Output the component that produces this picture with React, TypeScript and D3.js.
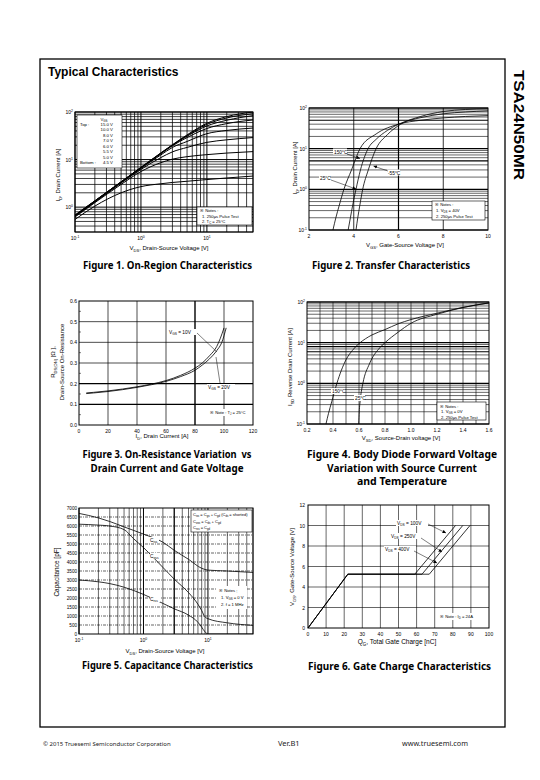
import React from 'react';
import * as d3 from 'd3';

const FONT = "'Liberation Sans', Arial, sans-serif";
const CAP_FONT = "'Noto Sans', 'Open Sans', sans-serif";

// ---------- Figure 1: On-Region ----------
const f1Vds = [0.1, 0.2, 0.5, 1, 2, 3, 5, 10, 20, 50];
const f1Id15 = [0.68, 1.36, 3.4, 6.9, 13.8, 20.5, 33, 58, 80, 100];
const f1Id10 = [0.68, 1.35, 3.4, 6.8, 13.6, 20.2, 32, 55, 75, 92];
const f1Id8 = [0.67, 1.34, 3.38, 6.8, 13.5, 20, 31, 51, 67, 84];
const f1Id7 = [0.66, 1.33, 3.35, 6.7, 13.2, 19.5, 29, 45, 57, 68];
const f1Id6 = [0.65, 1.3, 3.3, 6.5, 12.5, 18, 24, 35, 41, 46];
const f1Id55 = [0.64, 1.28, 3.2, 6.2, 11, 14.5, 18, 23, 26, 29];
const f1Id5 = [0.62, 1.24, 3.0, 5.6, 8.6, 10.2, 11.5, 12.7, 13.7, 14.7];
const f1Id45 = [0.55, 1.05, 2.0, 2.7, 3.1, 3.3, 3.5, 3.8, 4.1, 4.5];
const f1Legend = ['15.0 V', '10.0 V', '8.0 V', '7.0 V', '6.0 V', '5.5 V', '5.0 V', '4.5 V'];

// ---------- Figure 2: Transfer ----------
const f2Vgs150 = [3.07, 3.2, 3.35, 3.56, 3.9, 4.28, 5.0, 6, 7, 8, 9, 10];
const f2Id150 = [0.1, 0.2, 0.4, 1, 3, 10, 23, 40, 50, 57, 62, 65];
const f2Vgs25 = [3.75, 3.85, 3.95, 4.1, 4.3, 4.64, 5, 5.5, 6, 7, 8, 9, 10];
const f2Id25 = [0.1, 0.2, 0.4, 1, 3, 10, 17, 28, 40, 58, 72, 80, 85];
const f2VgsM55 = [4.1, 4.18, 4.27, 4.4, 4.65, 5.0, 5.5, 6.1, 7, 8, 9, 10];
const f2IdM55 = [0.1, 0.2, 0.4, 1, 3, 10, 22, 40, 62, 82, 92, 96];
const f2XTicks = [2, 4, 6, 8, 10];

// ---------- Figure 3: On-Resistance ----------
const f3Id10 = [5, 10, 20, 30, 40, 50, 60, 70, 80, 85, 90, 95, 97.5, 100];
const f3Rds10 = [0.155, 0.158, 0.165, 0.174, 0.185, 0.198, 0.215, 0.24, 0.275, 0.3, 0.335, 0.38, 0.42, 0.47];
const f3Id20 = [5, 10, 20, 30, 40, 50, 60, 70, 80, 85, 90, 95, 98.5, 101.5];
const f3Rds20 = [0.152, 0.155, 0.162, 0.171, 0.182, 0.195, 0.211, 0.234, 0.265, 0.29, 0.32, 0.36, 0.4, 0.47];
const f3XTicks = [0, 20, 40, 60, 80, 100, 120];
const f3YTicks = [0, 0.1, 0.2, 0.3, 0.4, 0.5, 0.6];

// ---------- Figure 4: Body diode ----------
const f4Vsd150 = [0.346, 0.365, 0.39, 0.43, 0.5, 0.55, 0.6, 0.65, 0.7, 0.8, 0.9, 1.0, 1.2, 1.4, 1.6];
const f4Isd150 = [0.1, 0.18, 0.35, 1, 3.8, 6.5, 9.5, 12.5, 15.5, 21, 29, 37, 53, 74, 95];
const f4Vsd25 = [0.598, 0.602, 0.61, 0.63, 0.68, 0.76, 0.8, 0.9, 1.0, 1.2, 1.4, 1.6];
const f4Isd25 = [0.1, 0.2, 0.4, 1, 3, 7.5, 10, 18, 30, 50, 73, 95];
const f4XTicks = [0.2, 0.4, 0.6, 0.8, 1.0, 1.2, 1.4, 1.6];

// ---------- Figure 5: Capacitance ----------
const f5VdsCiss = [0.1, 0.2, 0.3, 0.5, 1, 2, 3, 5, 8, 10, 20, 50];
const f5Ciss = [6700, 6450, 6250, 5950, 5550, 5100, 4650, 4150, 3650, 3550, 3500, 3420];
const f5VdsCoss = [0.1, 0.2, 0.3, 0.5, 0.7, 1, 2, 3, 5, 7, 8, 9, 10, 20, 50];
const f5Coss = [6100, 6050, 6000, 5800, 5300, 4800, 3700, 3050, 2300, 1650, 1300, 950, 850, 620, 480];
const f5VdsCrss = [0.1, 0.2, 0.3, 0.5, 1, 2, 3, 5, 7, 8, 9, 10, 20, 50];
const f5Crss = [3000, 2900, 2800, 2600, 2200, 1700, 1400, 1050, 650, 380, 120, 0, 0, 0];
const f5YTicks = d3.range(0, 7001, 500);

// ---------- Figure 6: Gate charge ----------
const f6Qg100 = [0, 22, 59, 81.5];
const f6Qg250 = [0, 22, 63, 85.5];
const f6Qg400 = [0, 22, 67, 89.5];
const f6Vgs = [0, 5.25, 5.25, 10];
const f6XTicks = d3.range(0, 101, 10);
const f6YTicks = [0, 2, 4, 6, 8, 10, 12];

type Seg = string | { sub: string } | { sup: string };

function RText(props: {
  x: number; y: number; size: number; segs: Seg[]; anchor?: string; transform?: string; weight?: any; fill?: string;
}) {
  const { x, y, size, segs, anchor = 'start', transform, weight, fill = '#000' } = props;
  let state = 0;
  const off = (v: number) => (v === 1 ? size * 0.3 : v === -1 ? -size * 0.4 : 0);
  const kids = segs.map((s, i) => {
    let t: string;
    let st: number;
    if (typeof s === 'string') { t = s; st = 0; }
    else if ('sub' in s) { t = s.sub; st = 1; }
    else { t = (s as any).sup; st = -1; }
    const dy = off(st) - off(state);
    state = st;
    return (
      <tspan key={i} dy={dy} fontSize={st ? size * 0.68 : size}>{t}</tspan>
    );
  });
  return (
    <text x={x} y={y} fontSize={size} textAnchor={anchor as any} transform={transform} fontWeight={weight} fill={fill}>
      {kids}
    </text>
  );
}

function logVals(min: number, max: number) {
  const v: number[] = [];
  for (let e = Math.floor(Math.log10(min)); e <= Math.ceil(Math.log10(max)); e++) {
    for (let k = 1; k < 10; k++) {
      const val = k * Math.pow(10, e);
      if (val >= min * 0.999 && val <= max * 1.001) v.push(val);
    }
  }
  return v;
}
const isDecade = (v: number) => Math.abs(Math.log10(v) - Math.round(Math.log10(v))) < 1e-9;

function VLines({ vals, sx, T, B, wf, dash }: any) {
  return (
    <g>
      {vals.map((v: number, i: number) => (
        <line key={i} x1={sx(v)} x2={sx(v)} y1={T} y2={B} stroke="#000" strokeWidth={wf(v)} strokeDasharray={dash} />
      ))}
    </g>
  );
}
function HLines({ vals, sy, L, R, wf, dash }: any) {
  return (
    <g>
      {vals.map((v: number, i: number) => (
        <line key={i} x1={L} x2={R} y1={sy(v)} y2={sy(v)} stroke="#000" strokeWidth={wf(v)} strokeDasharray={dash} />
      ))}
    </g>
  );
}

function Curve({ xs, ys, sx, sy, w = 0.8, linear = false }: any) {
  const pts: [number, number][] = xs.map((x: number, i: number) => [sx(x), sy(ys[i])]);
  const gen = d3.line().curve(linear ? d3.curveLinear : d3.curveMonotoneX);
  return <path d={gen(pts) || ''} fill="none" stroke="#000" strokeWidth={w} />;
}

function Caption({ lines, cx, y0, widths }: { lines: string[]; cx: number; y0: number; widths: number[] }) {
  return (
    <g fontFamily={CAP_FONT} fontWeight={700} fontSize={10.5}>
      {lines.map((l, i) => (
        <text key={i} x={cx} y={y0 + i * 13.5} textAnchor="middle" textLength={widths[i]} lengthAdjust="spacingAndGlyphs" style={{ whiteSpace: 'pre' }}>{l}</text>
      ))}
    </g>
  );
}

function Figure1() {
  const L = 75, T = 112, R = 253, B = 232;
  const sx = d3.scaleLog().domain([0.1, 50]).range([L, R]);
  const sy = d3.scaleLog().domain([0.3, 100]).range([B, T]);
  const series = [f1Id15, f1Id10, f1Id8, f1Id7, f1Id6, f1Id55, f1Id5, f1Id45];
  return (
    <g>
      <defs><clipPath id="c1"><rect x={L} y={T} width={R - L} height={B - T} /></clipPath></defs>
      <VLines vals={logVals(0.1, 50)} sx={sx} T={T} B={B} wf={(v: number) => (isDecade(v) ? 1 : 0.75)} />
      <HLines vals={logVals(0.3, 100)} sy={sy} L={L} R={R} wf={(v: number) => (isDecade(v) ? 1 : 0.75)} />
      <g clipPath="url(#c1)">
        {series.map((s, i) => <Curve key={i} xs={f1Vds} ys={s} sx={sx} sy={sy} w={1} />)}
      </g>
      <rect x={L} y={T} width={R - L} height={B - T} fill="none" stroke="#000" strokeWidth={1} />
      {[0.1, 1, 10].map((v, i) => (
        <RText key={i} x={sx(v)} y={B + 8} size={5} anchor="middle" segs={['10', { sup: String(Math.round(Math.log10(v))) }]} />
      ))}
      {[1, 10, 100].map((v, i) => (
        <RText key={i} x={L - 2} y={sy(v) + 2} size={5} anchor="end" segs={['10', { sup: String(Math.round(Math.log10(v))) }]} />
      ))}
      {/* legend */}
      <rect x={77} y={115} width={45} height={53} fill="#fff" stroke="#000" strokeWidth={0.6} />
      <RText x={104} y={121} size={4.3} anchor="middle" segs={['V', { sub: 'GS' }]} />
      <text x={80} y={126} fontSize={4.3}>Top :</text>
      <text x={80} y={164} fontSize={4.3}>Bottom :</text>
      {f1Legend.map((t, i) => (
        <text key={i} x={113} y={126 + i * 5.43} fontSize={4.3} textAnchor="end">{t}</text>
      ))}
      {/* notes */}
      <rect x={197} y={207} width={55} height={18} fill="#fff" stroke="#000" strokeWidth={0.6} />
      <text x={200} y={212} fontSize={4.2}>※ Notes :</text>
      <text x={202} y={217.5} fontSize={4.2}>1. 250μs Pulse Test</text>
      <RText x={202} y={223} size={4.2} segs={['2. T', { sub: 'C' }, ' = 25°C']} />
      <RText x={169} y={250} size={6} anchor="middle" segs={['V', { sub: 'DS' }, ', Drain-Source Voltage [V]']} />
      <RText x={60} y={175} size={6} anchor="middle" transform="rotate(-90 60 175)" segs={['I', { sub: 'D' }, ', Drain Current [A]']} />
      <Caption lines={['Figure 1. On-Region Characteristics']} cx={167.5} y0={269} widths={[169]} />
    </g>
  );
}

function Figure2() {
  const L = 309, T = 108, R = 488, B = 230;
  const sx = d3.scaleLinear().domain([2, 10]).range([L, R]);
  const sy = d3.scaleLog().domain([0.1, 100]).range([B, T]);
  return (
    <g>
      <defs><clipPath id="c2"><rect x={L} y={T} width={R - L} height={B - T} /></clipPath></defs>
      <HLines vals={logVals(0.1, 100)} sy={sy} L={L} R={R} wf={(v: number) => (isDecade(v) || v === 5 || v === 50 ? 1.1 : 0.6)} />
      <VLines vals={[4, 6, 8]} sx={sx} T={T} B={B} wf={(v: number) => (v === 6 ? 1.2 : 0.8)} />
      <g clipPath="url(#c2)">
        <Curve xs={f2Vgs150} ys={f2Id150} sx={sx} sy={sy} />
        <Curve xs={f2Vgs25} ys={f2Id25} sx={sx} sy={sy} />
        <Curve xs={f2VgsM55} ys={f2IdM55} sx={sx} sy={sy} />
      </g>
      <rect x={L} y={T} width={R - L} height={B - T} fill="none" stroke="#000" strokeWidth={1} />
      {f2XTicks.map((v, i) => (
        <text key={i} x={sx(v)} y={B + 8} fontSize={5} textAnchor="middle">{v}</text>
      ))}
      {[0.1, 1, 10, 100].map((v, i) => (
        <RText key={i} x={L - 2} y={sy(v) + 2} size={5} anchor="end" segs={['10', { sup: String(Math.round(Math.log10(v))) }]} />
      ))}
      {/* labels */}
      <rect x={333} y={148.5} width={14} height={6} fill="#fff" />
      <text x={334} y={153.5} fontSize={4.8}>150°C</text>
      <line x1={347} y1={154} x2={360} y2={158.5} stroke="#000" strokeWidth={0.5} markerEnd="url(#arr)" />
      <rect x={387} y={169.5} width={13} height={6} fill="#fff" />
      <text x={388} y={174.5} fontSize={4.8}>-55°C</text>
      <line x1={388} y1={171} x2={373.5} y2={166} stroke="#000" strokeWidth={0.5} markerEnd="url(#arr)" />
      <rect x={319} y={175} width={11} height={6} fill="#fff" />
      <text x={320} y={180} fontSize={4.8}>25°C</text>
      <line x1={331} y1={180} x2={356} y2={189} stroke="#000" strokeWidth={0.5} markerEnd="url(#arr)" />
      {/* notes */}
      <rect x={432} y={201} width={53} height={19} fill="#fff" stroke="#000" strokeWidth={0.6} />
      <text x={435} y={206} fontSize={4.2}>※ Notes :</text>
      <RText x={436} y={212} size={4.2} segs={['1. V', { sub: 'DS' }, ' = 40V']} />
      <text x={436} y={218} fontSize={4.2}>2. 250μs Pulse Test</text>
      <RText x={405} y={247} size={6} anchor="middle" segs={['V', { sub: 'GS' }, ', Gate-Source Voltage [V]']} />
      <RText x={297} y={168} size={6} anchor="middle" transform="rotate(-90 297 168)" segs={['I', { sub: 'D' }, ', Drain Current [A]']} />
      <Caption lines={['Figure 2. Transfer Characteristics']} cx={391} y0={269} widths={[158]} />
    </g>
  );
}

function Figure3() {
  const L = 79, T = 301, R = 253, B = 425;
  const sx = d3.scaleLinear().domain([0, 120]).range([L, R]);
  const sy = d3.scaleLinear().domain([0, 0.6]).range([B, T]);
  return (
    <g>
      <VLines vals={[20, 40, 60, 80, 100]} sx={sx} T={T} B={B} wf={(v: number) => (v === 80 ? 1.4 : 0.7)} />
      <HLines vals={[0.1, 0.2, 0.3, 0.4, 0.5]} sy={sy} L={L} R={R} wf={(v: number) => (v < 0.25 ? 1.4 : 0.7)} />
      <Curve xs={f3Id10} ys={f3Rds10} sx={sx} sy={sy} />
      <Curve xs={f3Id20} ys={f3Rds20} sx={sx} sy={sy} />
      <rect x={L} y={T} width={R - L} height={B - T} fill="none" stroke="#000" strokeWidth={1} />
      {d3.range(0.05, 0.6, 0.1).map((v, i) => (
        <line key={i} x1={L} x2={L + 2} y1={sy(v)} y2={sy(v)} stroke="#000" strokeWidth={0.5} />
      ))}
      {f3XTicks.map((v, i) => (
        <text key={i} x={sx(v)} y={B + 8} fontSize={5} textAnchor="middle">{v}</text>
      ))}
      {f3YTicks.map((v, i) => (
        <text key={i} x={L - 2} y={sy(v) + 2} fontSize={5} textAnchor="end">{v.toFixed(1)}</text>
      ))}
      <rect x={168} y={329} width={28} height={6} fill="#fff" />
      <RText x={169} y={334} size={4.8} segs={['V', { sub: 'GS' }, ' = 10V']} />
      <line x1={197} y1={333} x2={217} y2={352} stroke="#000" strokeWidth={0.5} />
      <rect x={207} y={384} width={28} height={6} fill="#fff" />
      <RText x={208} y={389} size={4.8} segs={['V', { sub: 'GS' }, ' = 20V']} />
      <line x1={220} y1={383} x2={216} y2={357} stroke="#000" strokeWidth={0.5} />
      <rect x={207} y={409} width={43} height={7} fill="#fff" />
      <RText x={210} y={414} size={4.2} segs={['※ Note : T', { sub: 'J' }, ' = 25°C']} />
      <RText x={162} y={438} size={6} anchor="middle" segs={['I', { sub: 'D' }, ', Drain Current [A]']} />
      <RText x={55} y={362} size={6} anchor="middle" transform="rotate(-90 55 362)" segs={['R', { sub: 'DS(ON)' }, ' [Ω ],']} />
      <text x={64} y={362} fontSize={6} textAnchor="middle" transform="rotate(-90 64 362)">Drain-Source On-Resistance</text>
      <Caption lines={['Figure 3. On-Resistance Variation  vs', 'Drain Current and Gate Voltage']} cx={167} y0={458} widths={[169, 153]} />
    </g>
  );
}

function Figure4() {
  const L = 307, T = 302, R = 489, B = 424;
  const sx = d3.scaleLinear().domain([0.2, 1.6]).range([L, R]);
  const sy = d3.scaleLog().domain([0.1, 100]).range([B, T]);
  return (
    <g>
      <defs><clipPath id="c4"><rect x={L} y={T} width={R - L} height={B - T} /></clipPath></defs>
      <HLines vals={logVals(0.1, 100)} sy={sy} L={L} R={R} wf={(v: number) => (isDecade(v) || v === 6 || v === 8 ? 1.1 : 0.6)} />
      <VLines vals={d3.range(3, 16).map((k) => k / 10)} sx={sx} T={T} B={B} wf={() => 0.6} />
      <g clipPath="url(#c4)">
        <Curve xs={f4Vsd150} ys={f4Isd150} sx={sx} sy={sy} />
        <Curve xs={f4Vsd25} ys={f4Isd25} sx={sx} sy={sy} />
      </g>
      <rect x={L} y={T} width={R - L} height={B - T} fill="none" stroke="#000" strokeWidth={1} />
      {f4XTicks.map((v, i) => (
        <text key={i} x={sx(v)} y={B + 8} fontSize={5} textAnchor="middle">{v.toFixed(1)}</text>
      ))}
      {[0.1, 1, 10, 100].map((v, i) => (
        <RText key={i} x={L - 2} y={sy(v) + 2} size={5} anchor="end" segs={['10', { sup: String(Math.round(Math.log10(v))) }]} />
      ))}
      <rect x={331} y={388} width={14} height={6} fill="#fff" />
      <text x={332} y={393} fontSize={4.8}>150°C</text>
      <rect x={354} y={395} width={11} height={6} fill="#fff" />
      <text x={355} y={400} fontSize={4.8}>25°C</text>
      <rect x={437} y={402} width={49} height={18} fill="#fff" stroke="#000" strokeWidth={0.6} />
      <text x={440} y={407.5} fontSize={4.2}>※ Notes :</text>
      <RText x={441} y={413} size={4.2} segs={['1. V', { sub: 'GS' }, ' = 0V']} />
      <text x={441} y={418.5} fontSize={4.2}>2. 250μs Pulse Test</text>
      <RText x={401} y={440} size={6} anchor="middle" segs={['V', { sub: 'SD' }, ', Source-Drain voltage [V]']} />
      <RText x={292} y={367} size={6} anchor="middle" transform="rotate(-90 292 367)" segs={['I', { sub: 'SD' }, ' Reverse Drain Current [A]']} />
      <Caption lines={['Figure 4. Body Diode Forward Voltage', 'Variation with Source Current', 'and Temperature']} cx={402} y0={458} widths={[190, 150, 90]} />
    </g>
  );
}

function Figure5() {
  const L = 79, T = 508, R = 253, B = 634;
  const sx = d3.scaleLog().domain([0.1, 50]).range([L, R]);
  const sy = d3.scaleLinear().domain([0, 7000]).range([B, T]);
  return (
    <g>
      <defs><clipPath id="c5"><rect x={L} y={T} width={R - L} height={B - T} /></clipPath></defs>
      <HLines vals={f5YTicks.slice(1, -1)} sy={sy} L={L} R={R} wf={() => 0.6} dash="3,1,1,1" />
      <VLines vals={logVals(0.1, 50)} sx={sx} T={T} B={B} wf={(v: number) => (isDecade(v) ? 1 : v === 3 ? 1.3 : 0.6)} />
      <g clipPath="url(#c5)">
        <Curve xs={f5VdsCiss} ys={f5Ciss} sx={sx} sy={sy} />
        <Curve xs={f5VdsCoss} ys={f5Coss} sx={sx} sy={sy} />
        <Curve xs={f5VdsCrss} ys={f5Crss} sx={sx} sy={sy} />
      </g>
      <rect x={L} y={T} width={R - L} height={B - T} fill="none" stroke="#000" strokeWidth={1} />
      {[0.1, 1, 10].map((v, i) => (
        <RText key={i} x={sx(v)} y={B + 8} size={5} anchor="middle" segs={['10', { sup: String(Math.round(Math.log10(v))) }]} />
      ))}
      {f5YTicks.map((v, i) => (
        <text key={i} x={L - 2} y={sy(v) + 2} fontSize={4.6} textAnchor="end">{v}</text>
      ))}
      <rect x={191} y={510} width={61} height={22} fill="#fff" stroke="#000" strokeWidth={0.6} />
      <RText x={193} y={516} size={4} segs={['C', { sub: 'iss' }, ' = C', { sub: 'gs' }, ' + C', { sub: 'gd' }, ' (C', { sub: 'ds' }, ' = shorted)']} />
      <RText x={193} y={522.5} size={4} segs={['C', { sub: 'oss' }, ' = C', { sub: 'ds' }, ' + C', { sub: 'gd' }]} />
      <RText x={193} y={529} size={4} segs={['C', { sub: 'rss' }, ' = C', { sub: 'gd' }]} />
      <rect x={150} y={537} width={9} height={6} fill="#fff" />
      <RText x={150} y={542} size={4.8} segs={['C', { sub: 'iss' }]} />
      <rect x={150} y={553} width={11} height={6} fill="#fff" />
      <RText x={150} y={558} size={4.8} segs={['C', { sub: 'oss' }]} />
      <rect x={150} y={596} width={10} height={6} fill="#fff" />
      <RText x={150} y={601} size={4.8} segs={['C', { sub: 'rss' }]} />
      <rect x={216} y={586} width={31} height={23} fill="#fff" />
      <text x={219} y={592} fontSize={4.2}>※ Notes ;</text>
      <RText x={221} y={599} size={4.2} segs={['1. V', { sub: 'GS' }, ' = 0 V']} />
      <text x={221} y={606} fontSize={4.2}>2. f = 1 MHz</text>
      <RText x={165} y={653} size={6} anchor="middle" segs={['V', { sub: 'DS' }, ', Drain-Source Voltage [V]']} />
      <text x={59} y={572} fontSize={6.5} textAnchor="middle" transform="rotate(-90 59 572)">Capacitance [pF]</text>
      <Caption lines={['Figure 5. Capacitance Characteristics']} cx={167.5} y0={669} widths={[171]} />
    </g>
  );
}

function Figure6() {
  const L = 308, T = 505, R = 489, B = 628;
  const sx = d3.scaleLinear().domain([0, 100]).range([L, R]);
  const sy = d3.scaleLinear().domain([0, 12]).range([B, T]);
  return (
    <g>
      <VLines vals={f6XTicks.slice(1, -1)} sx={sx} T={T} B={B} wf={() => 0.6} />
      <HLines vals={f6YTicks.slice(1, -1)} sy={sy} L={L} R={R} wf={() => 0.6} />
      <Curve xs={f6Qg100} ys={f6Vgs} sx={sx} sy={sy} linear w={0.8} />
      <Curve xs={f6Qg250} ys={f6Vgs} sx={sx} sy={sy} linear w={0.8} />
      <Curve xs={f6Qg400} ys={f6Vgs} sx={sx} sy={sy} linear w={0.8} />
      <rect x={L} y={T} width={R - L} height={B - T} fill="none" stroke="#000" strokeWidth={1} />
      {f6XTicks.map((v, i) => (
        <text key={i} x={sx(v)} y={B + 8} fontSize={5} textAnchor="middle">{v}</text>
      ))}
      {f6YTicks.map((v, i) => (
        <text key={i} x={L - 3} y={sy(v) + 2} fontSize={5} textAnchor="end">{v}</text>
      ))}
      <rect x={396} y={520} width={32} height={6} fill="#fff" />
      <RText x={397} y={525} size={4.8} segs={['V', { sub: 'DS' }, ' = 100V']} />
      <line x1={428} y1={524} x2={446} y2={533} stroke="#000" strokeWidth={0.5} markerEnd="url(#arr)" />
      <rect x={390} y={533} width={32} height={6} fill="#fff" />
      <RText x={391} y={538} size={4.8} segs={['V', { sub: 'DS' }, ' = 250V']} />
      <line x1={421} y1={538} x2={442} y2={552} stroke="#000" strokeWidth={0.5} markerEnd="url(#arr)" />
      <rect x={384} y={546} width={32} height={6} fill="#fff" />
      <RText x={385} y={551} size={4.8} segs={['V', { sub: 'DS' }, ' = 400V']} />
      <line x1={414} y1={551} x2={437} y2={563} stroke="#000" strokeWidth={0.5} markerEnd="url(#arr)" />
      <rect x={437} y={613} width={43} height={7} fill="#fff" />
      <RText x={440} y={618} size={4.2} segs={['※ Note : I', { sub: 'D' }, ' = 24A']} />
      <RText x={397} y={644} size={6.5} anchor="middle" segs={['Q', { sub: 'G' }, ', Total Gate Charge [nC]']} />
      <RText x={294} y={567} size={6} anchor="middle" transform="rotate(-90 294 567)" segs={['V', { sub: 'GS' }, ', Gate-Source Voltage [V]']} />
      <Caption lines={['Figure 6. Gate Charge Characteristics']} cx={399.5} y0={670} widths={[183]} />
    </g>
  );
}

export default function App() {
  return (
    <svg width={540} height={780} viewBox="0 0 540 780" style={{ position: 'absolute', left: 0, top: 0, display: 'block' }} fontFamily={FONT}>
      <defs>
        <marker id="arr" viewBox="0 0 10 10" refX={10} refY={5} markerWidth={3.5} markerHeight={3.5} markerUnits="userSpaceOnUse" orient="auto">
          <path d="M0,0L10,5L0,10z" fill="#000" />
        </marker>
      </defs>
      <rect x={0} y={0} width={540} height={780} fill="#fff" />
      <rect x={40} y={59} width={465} height={668} fill="none" stroke="#000" strokeWidth={1.3} />
      <text x={48} y={76} fontSize={12} fontWeight={700}>Typical Characteristics</text>
      <text x={514} y={70} fontSize={15} fontWeight={700} transform="rotate(90 514 70)" textLength={110} lengthAdjust="spacingAndGlyphs">TSA24N50MR</text>
      <Figure1 />
      <Figure2 />
      <Figure3 />
      <Figure4 />
      <Figure5 />
      <Figure6 />
      <g fontFamily={CAP_FONT} fill="#222">
        <text x={43} y={746} fontSize={6}>© 2015  Truesemi  Semiconductor Corporation</text>
        <text x={278} y={746} fontSize={7.5}>Ver.B1</text>
        <text x={402} y={746} fontSize={7.5} textLength={66} lengthAdjust="spacingAndGlyphs">www.truesemi.com</text>
      </g>
    </svg>
  );
}
